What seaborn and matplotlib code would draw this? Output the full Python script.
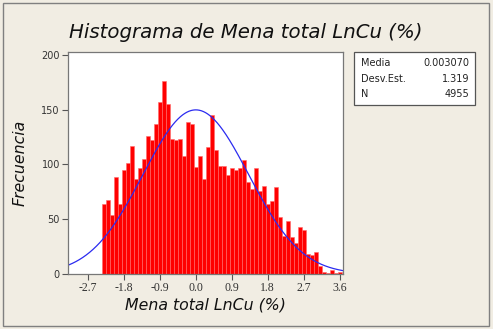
import numpy as np
import pandas as pd
import matplotlib
matplotlib.use("Agg")
import matplotlib.pyplot as plt
from matplotlib.patches import Rectangle
import seaborn as sns

# Bin midpoints (width 0.1) and their frequencies
bin_width = 0.1
midpoints = np.round(np.arange(-2.3, 3.65, bin_width), 2)
counts = [64, 68, 54, 89, 64, 95, 101, 117, 87, 97,
          105, 126, 122, 137, 157, 176, 155, 123, 122, 123,
          108, 139, 137, 98, 108, 87, 116, 145, 113, 99,
          99, 90, 97, 95, 97, 104, 84, 78, 97, 76,
          80, 64, 67, 79, 52, 35, 48, 34, 28, 43,
          40, 18, 17, 20, 7, 2, 1, 4, 1, 2]

# Summary statistics
media = 0.003070
desv_est = 1.319
n_total = 4955

x_ticks = [-2.7, -1.8, -0.9, 0.0, 0.9, 1.8, 2.7, 3.6]
y_ticks = [0, 50, 100, 150, 200]

df = pd.DataFrame({"LnCu": midpoints, "Frecuencia": counts})
bin_range = (float(midpoints[0] - bin_width / 2), float(midpoints[-1] + bin_width / 2))

sns.set_style("white")
bg = "#F1EDE3"
fig = plt.figure(figsize=(4.93, 3.29), dpi=100, facecolor=bg)
ax = fig.add_axes([0.1385, 0.1672, 0.5578, 0.6757])
ax.set_facecolor("white")

sns.histplot(data=df, x="LnCu", weights="Frecuencia", bins=len(midpoints), binrange=bin_range,
             ax=ax, color="#FF0000", edgecolor="#FF6A6A", linewidth=0.4, alpha=1.0)

# Fitted normal curve scaled to counts
xlim = (-3.185, 3.69)
xs = np.linspace(xlim[0], xlim[1], 400)
ys = n_total * bin_width * np.exp(-0.5 * ((xs - media) / desv_est) ** 2) / (desv_est * np.sqrt(2 * np.pi))
sns.lineplot(x=xs, y=ys, ax=ax, color="#2B2BF0", linewidth=0.9)

ax.set_xlim(*xlim)
ax.set_ylim(0, 203)
ax.set_xticks(x_ticks)
ax.set_xticklabels([f"{t:.1f}" for t in x_ticks], family="Liberation Serif", fontsize=8.5, color="#333333")
ax.set_yticks(y_ticks)
ax.set_yticklabels([str(t) for t in y_ticks], family="DejaVu Sans", fontsize=7, color="#333333")
ax.tick_params(axis="both", direction="out", length=4, width=0.8, color="#555555", pad=2,
               bottom=True, left=True)
for s in ax.spines.values():
    s.set_color("#777777")
    s.set_linewidth(0.9)

ax.set_xlabel("Mena total LnCu (%)", family="DejaVu Sans", style="italic", fontsize=11.3,
              color="#111111", labelpad=2)
ax.set_ylabel("Frecuencia", family="DejaVu Sans", style="italic", fontsize=11.3,
              color="#111111", labelpad=10)

fig.text(0.499, 1 - 32 / 329, "Histograma de Mena total LnCu (%)", family="DejaVu Sans",
         style="italic", fontsize=14.2, color="#111111", ha="center", va="center")

# Statistics box
box_l, box_t, box_r, box_b = 354, 51.7, 475, 105
fig.patches.append(Rectangle((box_l / 493, 1 - box_b / 329), (box_r - box_l) / 493,
                             (box_b - box_t) / 329, transform=fig.transFigure,
                             facecolor="white", edgecolor="#555555", linewidth=0.9))
rows = [("Media", f"{media:.6f}"), ("Desv.Est.", f"{desv_est:.3f}"), ("N", f"{n_total}")]
for i, (lab, val) in enumerate(rows):
    yy = 1 - (63.3 + 15.5 * i) / 329
    fig.text(361.5 / 493, yy, lab, family="DejaVu Sans", fontsize=7, color="#222222",
             ha="left", va="center")
    fig.text(469 / 493, yy, val, family="DejaVu Sans", fontsize=7, color="#222222",
             ha="right", va="center")

# Outer frame
fig.patches.append(Rectangle((3 / 493, 3 / 329), 486 / 493, 323 / 329, transform=fig.transFigure,
                             facecolor="none", edgecolor="#808080", linewidth=1.0))

fig.savefig("out.png", dpi=100, facecolor=bg)
